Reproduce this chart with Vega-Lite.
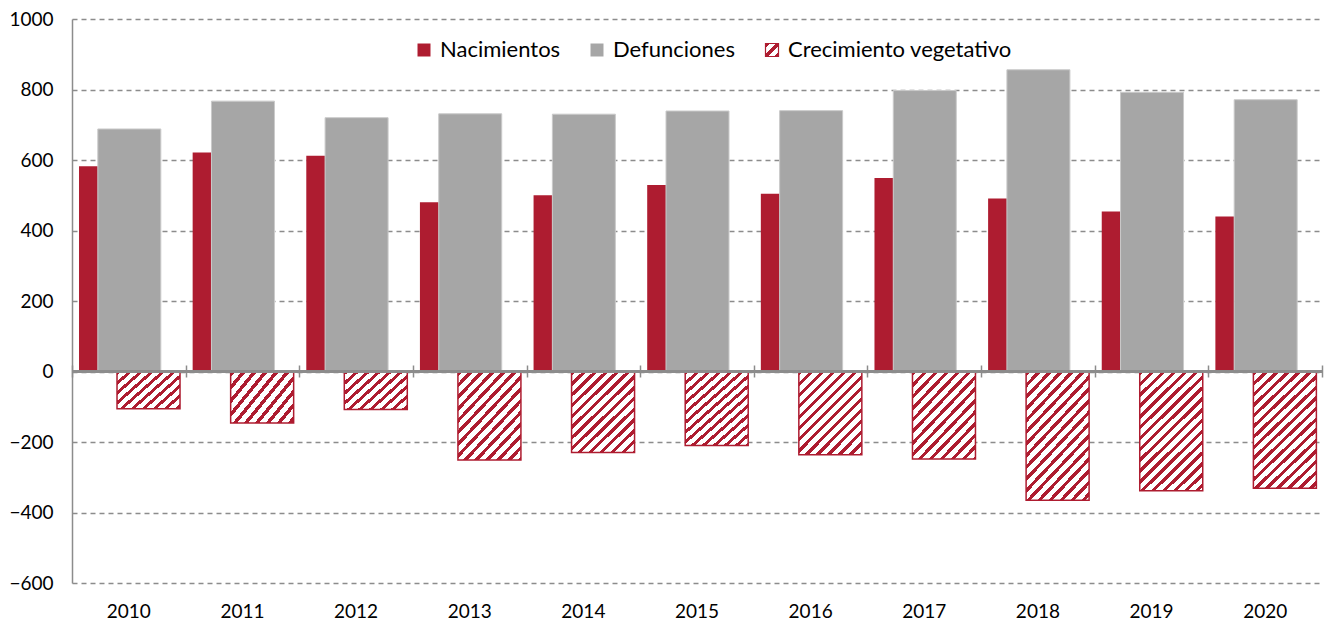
{
  "$schema": "https://vega.github.io/schema/vega-lite/v6.json",
  "width": 1250,
  "height": 564,
  "autosize": {"type": "none"},
  "padding": {"left": 72, "top": 19, "right": 2, "bottom": 37},
  "background": "#ffffff",
  "params": [
    {"name": "hs", "expr": "[{offset:0,color:'#AE1C30'},{offset:0.0225,color:'#AE1C30'},{offset:0.0225,color:'#fff'},{offset:0.055,color:'#fff'},{offset:0.055,color:'#AE1C30'},{offset:0.0775,color:'#AE1C30'},{offset:0.0775,color:'#fff'},{offset:0.11,color:'#fff'},{offset:0.11,color:'#AE1C30'},{offset:0.1325,color:'#AE1C30'},{offset:0.1325,color:'#fff'},{offset:0.165,color:'#fff'},{offset:0.165,color:'#AE1C30'},{offset:0.1875,color:'#AE1C30'},{offset:0.1875,color:'#fff'},{offset:0.22,color:'#fff'},{offset:0.22,color:'#AE1C30'},{offset:0.2425,color:'#AE1C30'},{offset:0.2425,color:'#fff'},{offset:0.275,color:'#fff'},{offset:0.275,color:'#AE1C30'},{offset:0.2975,color:'#AE1C30'},{offset:0.2975,color:'#fff'},{offset:0.33,color:'#fff'},{offset:0.33,color:'#AE1C30'},{offset:0.3525,color:'#AE1C30'},{offset:0.3525,color:'#fff'},{offset:0.385,color:'#fff'},{offset:0.385,color:'#AE1C30'},{offset:0.4075,color:'#AE1C30'},{offset:0.4075,color:'#fff'},{offset:0.44,color:'#fff'},{offset:0.44,color:'#AE1C30'},{offset:0.4625,color:'#AE1C30'},{offset:0.4625,color:'#fff'},{offset:0.495,color:'#fff'},{offset:0.495,color:'#AE1C30'},{offset:0.5175,color:'#AE1C30'},{offset:0.5175,color:'#fff'},{offset:0.55,color:'#fff'},{offset:0.55,color:'#AE1C30'},{offset:0.5725,color:'#AE1C30'},{offset:0.5725,color:'#fff'},{offset:0.605,color:'#fff'},{offset:0.605,color:'#AE1C30'},{offset:0.6275,color:'#AE1C30'},{offset:0.6275,color:'#fff'},{offset:0.66,color:'#fff'},{offset:0.66,color:'#AE1C30'},{offset:0.6825,color:'#AE1C30'},{offset:0.6825,color:'#fff'},{offset:0.715,color:'#fff'},{offset:0.715,color:'#AE1C30'},{offset:0.7375,color:'#AE1C30'},{offset:0.7375,color:'#fff'},{offset:0.77,color:'#fff'},{offset:0.77,color:'#AE1C30'},{offset:0.7925,color:'#AE1C30'},{offset:0.7925,color:'#fff'},{offset:0.825,color:'#fff'},{offset:0.825,color:'#AE1C30'},{offset:0.8475,color:'#AE1C30'},{offset:0.8475,color:'#fff'},{offset:0.88,color:'#fff'},{offset:0.88,color:'#AE1C30'},{offset:0.9025,color:'#AE1C30'},{offset:0.9025,color:'#fff'},{offset:0.935,color:'#fff'},{offset:0.935,color:'#AE1C30'},{offset:0.9575,color:'#AE1C30'},{offset:0.9575,color:'#fff'},{offset:0.99,color:'#fff'},{offset:0.99,color:'#AE1C30'},{offset:1,color:'#AE1C30'}]"},
    {"name": "gA", "expr": "{gradient:'linear',x1:0,y1:0,x2:2.1978,y2:1.4652,stops:hs}"},
    {"name": "gB", "expr": "{gradient:'linear',x1:0,y1:0,x2:1.1604,y2:1.5288,stops:hs}"},
    {"name": "gC", "expr": "{gradient:'linear',x1:0,y1:0,x2:0.6771,y2:1.3004,stops:hs}"},
    {"name": "gL", "expr": "{gradient:'linear',x1:0,y1:0,x2:7.69,y2:7.69,stops:hs}"}
  ],
  "data": {
    "values": [
      {"year": "2010", "serie": "Nacimientos", "value": 582},
      {"year": "2011", "serie": "Nacimientos", "value": 621},
      {"year": "2012", "serie": "Nacimientos", "value": 612},
      {"year": "2013", "serie": "Nacimientos", "value": 480},
      {"year": "2014", "serie": "Nacimientos", "value": 500},
      {"year": "2015", "serie": "Nacimientos", "value": 529},
      {"year": "2016", "serie": "Nacimientos", "value": 504},
      {"year": "2017", "serie": "Nacimientos", "value": 549},
      {"year": "2018", "serie": "Nacimientos", "value": 491},
      {"year": "2019", "serie": "Nacimientos", "value": 454},
      {"year": "2020", "serie": "Nacimientos", "value": 440},
      {"year": "2010", "serie": "Defunciones", "value": 688},
      {"year": "2011", "serie": "Defunciones", "value": 767},
      {"year": "2012", "serie": "Defunciones", "value": 720},
      {"year": "2013", "serie": "Defunciones", "value": 731},
      {"year": "2014", "serie": "Defunciones", "value": 730},
      {"year": "2015", "serie": "Defunciones", "value": 739},
      {"year": "2016", "serie": "Defunciones", "value": 740},
      {"year": "2017", "serie": "Defunciones", "value": 797},
      {"year": "2018", "serie": "Defunciones", "value": 856},
      {"year": "2019", "serie": "Defunciones", "value": 792},
      {"year": "2020", "serie": "Defunciones", "value": 771},
      {"year": "2010", "serie": "Crecimiento vegetativo", "value": -106},
      {"year": "2011", "serie": "Crecimiento vegetativo", "value": -146},
      {"year": "2012", "serie": "Crecimiento vegetativo", "value": -108},
      {"year": "2013", "serie": "Crecimiento vegetativo", "value": -251},
      {"year": "2014", "serie": "Crecimiento vegetativo", "value": -230},
      {"year": "2015", "serie": "Crecimiento vegetativo", "value": -210},
      {"year": "2016", "serie": "Crecimiento vegetativo", "value": -236},
      {"year": "2017", "serie": "Crecimiento vegetativo", "value": -248},
      {"year": "2018", "serie": "Crecimiento vegetativo", "value": -365},
      {"year": "2019", "serie": "Crecimiento vegetativo", "value": -338},
      {"year": "2020", "serie": "Crecimiento vegetativo", "value": -331}
    ]
  },
  "layer": [
    {
      "transform": [{"filter": "datum.serie === 'Nacimientos'"}],
      "mark": {"type": "bar", "width": 19, "xOffset": -40.3},
      "encoding": {
        "x": {"field": "year", "type": "nominal", "sort": null,
              "scale": {"type": "band", "paddingInner": 0, "paddingOuter": 0},
              "axis": {"orient": "bottom", "title": null, "domain": false, "ticks": false, "labelAngle": 0, "labelPadding": 19, "labelFont": "Lato", "labelFontSize": 19, "labelColor": "#000000", "grid": false}},
        "y": {"field": "value", "type": "quantitative", "scale": {"domain": [-600, 1000], "nice": false, "zero": false},
              "axis": {"values": [-600, -400, -200, 0, 200, 400, 600, 800, 1000], "format": "d"}},
        "color": {"field": "serie", "type": "nominal",
                  "scale": {"domain": ["Nacimientos", "Defunciones", "Crecimiento vegetativo"], "range": ["#AE1C30", "#A6A6A6", {"expr": "gL"}]},
                  "legend": {"orient": "none", "legendX": 341, "legendY": 20, "direction": "horizontal", "columns": 3, "title": null,
                             "symbolType": "square", "symbolSize": 169, "labelFont": "Lato", "labelFontSize": 22, "labelColor": "#000000",
                             "columnPadding": 25, "labelOffset": 5, "labelLimit": 400, "padding": 0,
                             "encode": {"symbols": {"update": {
                               "stroke": [{"test": "datum.value === 'Crecimiento vegetativo'", "value": "#AE1C30"}, {"value": "transparent"}],
                               "strokeWidth": {"value": 1.2}}}}}}
      }
    },
    {
      "transform": [{"filter": "datum.serie === 'Defunciones'"}],
      "mark": {"type": "bar", "width": 63, "xOffset": 0.5, "stroke": "#CACACA", "strokeWidth": 1},
      "encoding": {
        "x": {"field": "year", "type": "nominal", "sort": null, "axis": null},
        "y": {"field": "value", "type": "quantitative"},
        "color": {"field": "serie", "type": "nominal"}
      }
    },
    {
      "transform": [{"filter": "datum.serie === 'Crecimiento vegetativo'"}],
      "mark": {"type": "bar", "width": 63, "xOffset": 19.7, "stroke": "#AE1C30", "strokeWidth": 1.5},
      "encoding": {
        "x": {"field": "year", "type": "nominal", "sort": null,
              "axis": {"orient": "top", "offset": -358, "title": null, "labels": false, "domain": false, "ticks": true, "tickSize": 12, "tickColor": "#8C8C8C", "tickWidth": 1.5, "tickBand": "extent", "grid": false}},
        "y": {"field": "value", "type": "quantitative"},
        "fill": {"condition": [
                   {"test": "datum.value > -170", "value": {"expr": "gA"}},
                   {"test": "datum.value > -300", "value": {"expr": "gB"}}],
                 "value": {"expr": "gC"}}
      }
    },
    {
      "mark": {"type": "rule", "color": "#8C8C8C", "strokeWidth": 1.5},
      "encoding": {"y": {"datum": 0, "type": "quantitative"}}
    }
  ],
  "resolve": {"axis": {"x": "independent"}},
  "config": {
    "view": {"stroke": null},
    "font": "Lato",
    "axisY": {"title": null, "domain": true, "domainColor": "#8C8C8C", "domainWidth": 1.5, "ticks": false,
              "grid": true, "gridColor": "#8C8C8C", "gridDash": [5, 4], "gridWidth": 1.6,
              "labelPadding": 19, "labelFont": "Lato", "labelFontSize": 19, "labelColor": "#000000"}
  }
}
